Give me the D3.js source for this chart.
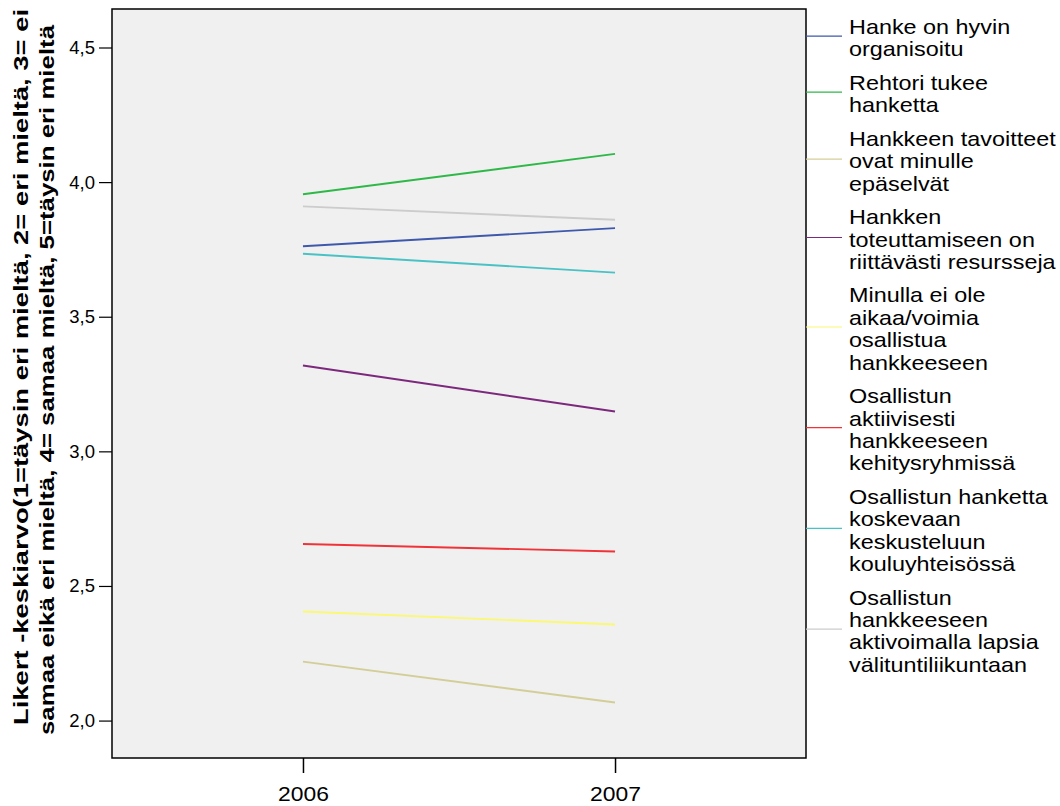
<!DOCTYPE html>
<html>
<head>
<meta charset="utf-8">
<script src="https://cdn.jsdelivr.net/npm/d3@7"></script>
<style>
  html, body { margin: 0; padding: 0; background: #ffffff; }
  svg { display: block; font-family: "Liberation Sans", Arial, sans-serif; }
</style>
</head>
<body>
<svg id="chart" width="1060" height="806"></svg>
<script>
// ---------- data ----------
const categories = ["2006", "2007"];
const seriesNames = [
  "Hanke on hyvin organisoitu",
  "Rehtori tukee hanketta",
  "Hankkeen tavoitteet ovat minulle epäselvät",
  "Hankken toteuttamiseen on riittävästi resursseja",
  "Minulla ei ole aikaa/voimia osallistua hankkeeseen",
  "Osallistun aktiivisesti hankkeeseen kehitysryhmissä",
  "Osallistun hanketta koskevaan keskusteluun kouluyhteisössä",
  "Osallistun hankkeeseen aktivoimalla lapsia välituntiliikuntaan"
];
const legendLines = [
  ["Hanke on hyvin", "organisoitu"],
  ["Rehtori tukee", "hanketta"],
  ["Hankkeen tavoitteet", "ovat minulle", "epäselvät"],
  ["Hankken", "toteuttamiseen on", "riittävästi resursseja"],
  ["Minulla ei ole", "aikaa/voimia", "osallistua", "hankkeeseen"],
  ["Osallistun", "aktiivisesti", "hankkeeseen", "kehitysryhmissä"],
  ["Osallistun hanketta", "koskevaan", "keskusteluun", "kouluyhteisössä"],
  ["Osallistun", "hankkeeseen", "aktivoimalla lapsia", "välituntiliikuntaan"]
];
const values2006 = [3.762, 3.955, 2.219, 3.319, 2.405, 2.656, 3.734, 3.910];
const values2007 = [3.829, 4.105, 2.067, 3.148, 2.357, 2.628, 3.664, 3.860];
const seriesColors = ["#3E58AC", "#2EB848", "#D3CE97", "#7C287D", "#FBF873", "#EF3338", "#48C2C5", "#CCCCCC"];
const yTickValues = [2.0, 2.5, 3.0, 3.5, 4.0, 4.5];
const yTickLabels = ["2,0", "2,5", "3,0", "3,5", "4,0", "4,5"];
const yDomain = [1.861, 4.643];
const yTitleLines = [
  "Likert -keskiarvo(1=täysin eri mieltä, 2= eri mieltä, 3= ei",
  "samaa eikä eri mieltä, 4= samaa mieltä, 5=täysin eri mieltä"
];

// ---------- layout ----------
const plot = { left: 112, right: 806, top: 9, bottom: 758 };
const svg = d3.select("#chart");

const x = d3.scalePoint().domain(categories).range([plot.left, plot.right]).padding(0.612);
const y = d3.scaleLinear().domain(yDomain).range([plot.bottom, plot.top]);

// plot background
svg.append("rect")
  .attr("x", plot.left).attr("y", plot.top)
  .attr("width", plot.right - plot.left).attr("height", plot.bottom - plot.top)
  .attr("fill", "#F0F0F0");

// lines
const seriesData = seriesNames.map((name, i) => ({
  name, color: seriesColors[i],
  points: [ {cat: categories[0], v: values2006[i]}, {cat: categories[1], v: values2007[i]} ]
}));
const line = d3.line().x(d => x(d.cat)).y(d => y(d.v));
svg.append("g").selectAll("path").data(seriesData).join("path")
  .attr("d", d => line(d.points))
  .attr("fill", "none")
  .attr("stroke", d => d.color)
  .attr("stroke-width", 1.9);

// frame
svg.append("rect")
  .attr("x", plot.left).attr("y", plot.top)
  .attr("width", plot.right - plot.left).attr("height", plot.bottom - plot.top)
  .attr("fill", "none").attr("stroke", "#000").attr("stroke-width", 1.5);

// y axis
const yAxis = d3.axisLeft(y).tickValues(yTickValues)
  .tickFormat((d, i) => yTickLabels[i]).tickSize(13).tickPadding(4);
const gy = svg.append("g").attr("transform", `translate(${plot.left},0)`).call(yAxis);
gy.select(".domain").remove();
gy.selectAll(".tick line").attr("stroke", "#000").attr("stroke-width", 1.2);
gy.selectAll(".tick text").attr("font-size", 18.5).attr("fill", "#000")
  .attr("font-family", "'Liberation Sans', Arial, sans-serif");

// x axis
const xAxis = d3.axisBottom(x).tickSize(15).tickPadding(0);
const gx = svg.append("g").attr("transform", `translate(0,${plot.bottom})`).call(xAxis);
gx.select(".domain").remove();
gx.selectAll(".tick line").attr("stroke", "#000").attr("stroke-width", 1.5);
gx.selectAll(".tick text").remove();
gx.selectAll(".tick").append("text")
  .attr("transform", "translate(0,43) scale(1.09,1)")
  .attr("text-anchor", "middle")
  .attr("font-size", 21)
  .attr("fill", "#000")
  .attr("font-family", "'Liberation Sans', Arial, sans-serif")
  .text(d => d);

// y title
const titleCenterY = [367, 380];
const titleBaseX = [28, 54];
const titleLen = [716, 710];
yTitleLines.forEach((t, i) => {
  svg.append("text")
    .attr("transform", `translate(${titleBaseX[i]},${titleCenterY[i]}) rotate(-90)`)
    .attr("text-anchor", "middle")
    .attr("font-size", 20.5)
    .attr("font-weight", "bold")
    .attr("fill", "#000")
    .attr("textLength", titleLen[i])
    .attr("lengthAdjust", "spacingAndGlyphs")
    .text(t);
});

// legend
const lh = 22.4, gapExtra = 11.1, firstCenter = 27;
let cursor = firstCenter;
const legend = svg.append("g");
legendLines.forEach((lines, i) => {
  const centers = lines.map((_, k) => cursor + k * lh);
  const blockCenter = (centers[0] + centers[centers.length - 1]) / 2;
  legend.append("line")
    .attr("x1", plot.right).attr("x2", 842)
    .attr("y1", blockCenter - 2).attr("y2", blockCenter - 2)
    .attr("stroke", seriesColors[i]).attr("stroke-width", 1.2);
  lines.forEach((t, k) => {
    legend.append("text")
      .attr("transform", `translate(849,${centers[k] + 7}) scale(1.17,1)`)
      .attr("font-size", 20)
      .attr("fill", "#000")
      .text(t);
  });
  cursor = centers[centers.length - 1] + lh + gapExtra;
});
</script>
</body>
</html>
